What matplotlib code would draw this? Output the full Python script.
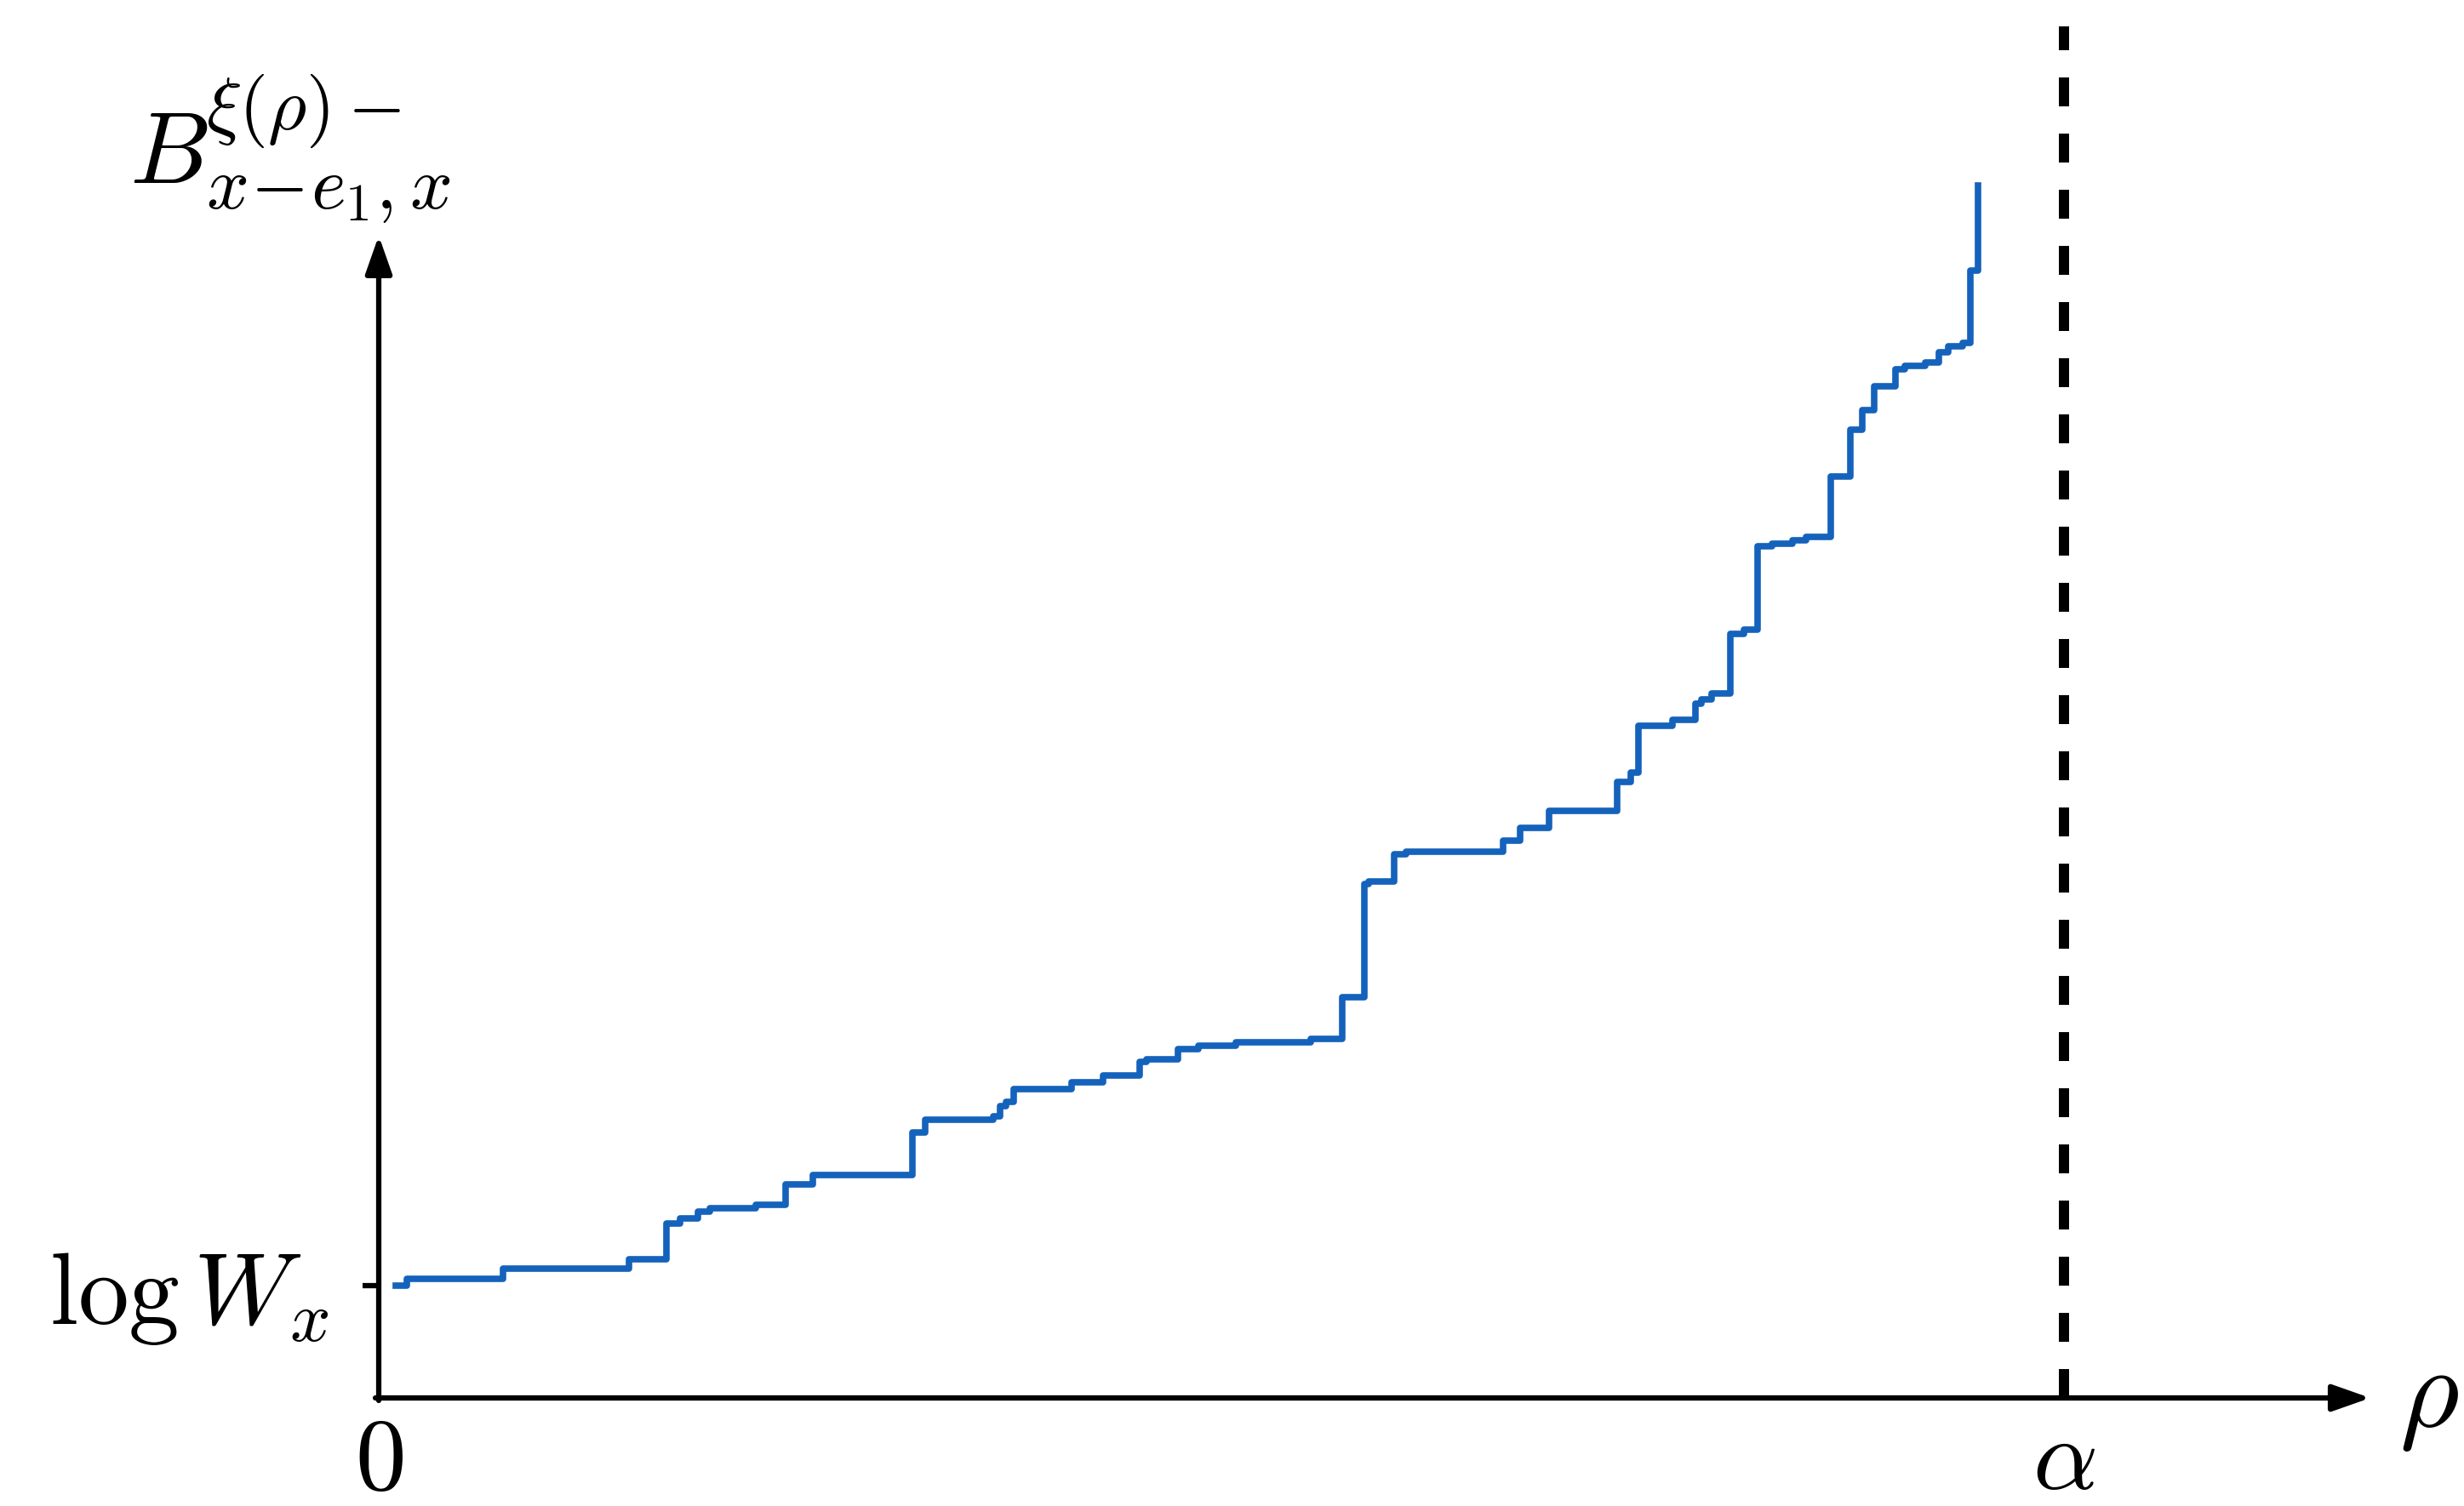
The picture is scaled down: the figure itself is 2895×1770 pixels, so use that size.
import matplotlib
matplotlib.use('Agg')
import matplotlib.pyplot as plt

plt.rcParams['mathtext.fontset'] = 'cm'

# step positions (rho, alpha = 1) and values of B after each step
rho = [0.0103, 0.0165, 0.0737, 0.1487, 0.1706, 0.1790, 0.1893, 0.1967, 0.2238, 0.2415,
       0.2578, 0.3166, 0.3240, 0.3646, 0.3688, 0.3720, 0.3767, 0.4112, 0.4298, 0.4517,
       0.4555, 0.4741, 0.4862, 0.5086, 0.5529, 0.5716, 0.5846, 0.5874, 0.6023, 0.6098,
       0.6671, 0.6774, 0.6942, 0.7347, 0.7431, 0.7473, 0.7678, 0.7814, 0.7851, 0.7907,
       0.8019, 0.8103, 0.8182, 0.8270, 0.8387, 0.8471, 0.8615, 0.8732, 0.8802, 0.8876,
       0.9002, 0.9054, 0.9175, 0.9259, 0.9315, 0.9399, 0.9445, 0.9492]
B = [0.715, 0.76, 0.825, 0.885, 1.11, 1.145, 1.185, 1.21, 1.23, 1.36,
     1.42, 1.69, 1.77, 1.795, 1.86, 1.885, 1.965, 2.01, 2.055, 2.14,
     2.155, 2.22, 2.245, 2.265, 2.285, 2.55, 3.27, 3.29, 3.46, 3.48,
     3.55, 3.63, 3.74, 3.92, 3.98, 4.28, 4.32, 4.42, 4.445, 4.485,
     4.865, 4.89, 5.42, 5.44, 5.46, 5.48, 5.865, 6.165, 6.29, 6.44,
     6.55, 6.57, 6.595, 6.655, 6.695, 6.715, 7.175, 7.72]

log_w = 0.715
alpha = 1.0
x_end = 1.1818   # end of rho arrow
y_end = 7.40     # end of B arrow

W, H = 2895, 1770
fig = plt.figure(figsize=(W / 100, H / 100), dpi=100)
ax = fig.add_axes([445 / W, 127 / H, 2340 / W, 1643 / H])
ax.set_xlim(0, 2340 / 1980)
ax.set_ylim(0, 1643 / 184.6)
for s in ax.spines.values():
    s.set_visible(False)

# axes with arrow heads
arr = dict(arrowstyle='-|>,head_length=27,head_width=9.5', mutation_scale=1,
           lw=4.5, color='k', shrinkA=0, shrinkB=0)
ax.annotate('', xy=(x_end, 0), xytext=(-0.002, 0), arrowprops=arr, annotation_clip=False)
ax.annotate('', xy=(0, y_end), xytext=(0, -0.016), arrowprops=arr, annotation_clip=False)

# dashed line at alpha
ax.plot([alpha, alpha], [0, 8.73], color='k', lw=8.64, linestyle=(0, (2.83, 2.67)),
        clip_on=False)

ax.plot(rho, B, drawstyle='steps-post', color='#1462bb', lw=5.5, clip_on=False)

ax.set_yticks([log_w], [r'$\log W_x$'])
ax.tick_params(axis='y', length=14, width=4.5, pad=28, labelsize=86)
ax.set_xticks([0, alpha], [r'$0$', r'$\alpha$'])
ax.tick_params(axis='x', length=0, pad=53, labelsize=86)
plt.setp(ax.get_xticklabels(), va='center')

# y label B^{xi(rho)-}_{x-e1,x}, pieces placed like TeX
ax.text(-0.148, 7.736, r'$B$', fontsize=86, ha='left', va='baseline')
ax.text(-0.1025, 8.077, r'$\xi(\rho)-$', fontsize=63, ha='left', va='baseline')
ax.text(-0.1025, 7.573, r'$x\!-\!e_1,x$', fontsize=63, ha='left', va='baseline')
ax.text(x_end + 0.017, 0.0, r'$\rho$', fontsize=97, ha='left', va='center')

fig.savefig('out.png', dpi=100)
